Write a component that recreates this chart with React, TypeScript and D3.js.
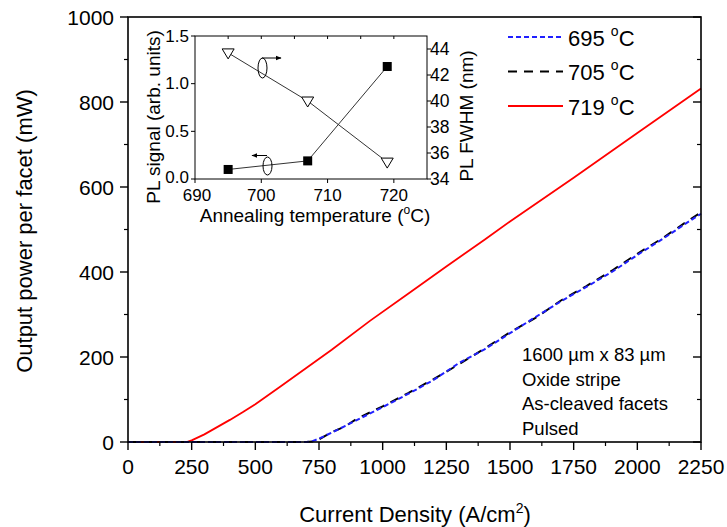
import React from "react";
import * as d3 from "d3";

// main plot: output power vs current density
const jRed = [0, 230, 250, 300, 350, 400, 450, 500, 600, 700, 800, 950, 1100, 1250, 1400, 1500, 1750, 2000, 2250];
const pRed = [0, 0, 4, 18, 35, 52, 70, 89, 131, 174, 217, 285, 349, 413, 476, 519, 622, 727, 832];

const jCool = [0, 700, 725, 750, 800, 850, 900, 1000, 1100, 1200, 1300, 1400, 1500, 1600, 1700, 1800, 1900, 2000, 2100, 2200, 2250];
const pBlue = [0, 0, 2, 8, 22, 37, 52, 82, 113, 146, 186, 218, 256, 294, 331, 365, 400, 440, 478, 518, 537];
const pBlack = [0, 0, 1, 6, 23, 36, 55, 84, 115, 148, 183, 220, 258, 292, 333, 367, 403, 443, 480, 521, 540];

const xTicks = [0, 250, 500, 750, 1000, 1250, 1500, 1750, 2000, 2250];
const yTicks = [0, 200, 400, 600, 800, 1000];

// inset: PL vs annealing temperature
const annealT = [695, 707, 719];
const plSignal = [0.1, 0.19, 1.18];
const plFwhm = [43.7, 40.0, 35.3];
const insetXTicks = [690, 700, 710, 720];
const insetYLTicks = [0.0, 0.5, 1.0, 1.5];
const insetYRTicks = [34, 36, 38, 40, 42, 44];

const legendItems = [
  { label: "695", color: "#2020ff", dash: "5,3" },
  { label: "705", color: "#000", dash: "9,7" },
  { label: "719", color: "#ff0000", dash: "" },
];
const noteLines = ["1600 \u00b5m x 83 \u00b5m", "Oxide stripe", "As-cleaved facets", "Pulsed"];

const font = "'Liberation Sans', Arial, sans-serif";

export default function App() {
  const x = d3.scaleLinear().domain([0, 2250]).range([128, 701]);
  const y = d3.scaleLinear().domain([0, 1000]).range([442, 17]);

  const ix = d3.scaleLinear().domain([690, 725]).range([195, 427]);
  const iyL = d3.scaleLinear().domain([0, 1.5]).range([179, 36]);
  const iyR = d3.scaleLinear().domain([34, 45]).range([179, 36]);

  const line = (xs: number[], ys: number[]) =>
    d3.line<number>().x((_, i) => x(xs[i])).y((d) => y(d))(ys) || "";

  const minorX = d3.range(125, 2250, 250);
  const minorY = d3.range(100, 1000, 200);

  const sqLine = d3.line<number>().x((_, i) => ix(annealT[i])).y((d) => iyL(d))(plSignal) || "";
  const triLine = d3.line<number>().x((_, i) => ix(annealT[i])).y((d) => iyR(d))(plFwhm) || "";

  return (
    <svg width={727} height={527} style={{ position: "absolute", left: 0, top: 0, background: "#fff" }} fontFamily={font}>
      <defs>
        <marker id="arr" viewBox="0 0 10 10" refX="9" refY="5" markerWidth="6" markerHeight="6" orient="auto">
          <path d="M0,1 L10,5 L0,9 Z" fill="#000" />
        </marker>
      </defs>

      {/* curves */}
      <path d={line(jRed, pRed)} fill="none" stroke="#ff0000" strokeWidth={1.8} />
      <path d={line(jCool, pBlack)} fill="none" stroke="#000" strokeWidth={2} strokeDasharray="9,7" />
      <path d={line(jCool, pBlue)} fill="none" stroke="#2020ff" strokeWidth={2} strokeDasharray="5,3" />

      {/* frame */}
      <rect x={x(0)} y={y(1000)} width={x(2250) - x(0)} height={y(0) - y(1000)} fill="none" stroke="#000" strokeWidth={1.6} />

      {/* bottom axis */}
      {xTicks.map((t) => (
        <g key={"xt" + t}>
          <line x1={x(t)} x2={x(t)} y1={y(0)} y2={y(0) + 8} stroke="#000" strokeWidth={1.4} />
          <text x={x(t)} y={474} fontSize={21} textAnchor="middle">{t}</text>
        </g>
      ))}
      {minorX.map((t) => (
        <line key={"xm" + t} x1={x(t)} x2={x(t)} y1={y(0)} y2={y(0) + 4} stroke="#000" strokeWidth={1.2} />
      ))}
      <text x={415} y={522} fontSize={22} textAnchor="middle">
        Current Density (A/cm<tspan fontSize={14} dy={-9}>2</tspan><tspan dy={9}>)</tspan>
      </text>

      {/* left + right axis */}
      {yTicks.map((t) => (
        <g key={"yt" + t}>
          <line x1={x(0) - 8} x2={x(0)} y1={y(t)} y2={y(t)} stroke="#000" strokeWidth={1.4} />
          <line x1={x(2250) - 8} x2={x(2250)} y1={y(t)} y2={y(t)} stroke="#000" strokeWidth={1.4} />
          <text x={114} y={y(t)} fontSize={21} textAnchor="end" dominantBaseline="central">{t}</text>
        </g>
      ))}
      {minorY.map((t) => (
        <g key={"ym" + t}>
          <line x1={x(0) - 4} x2={x(0)} y1={y(t)} y2={y(t)} stroke="#000" strokeWidth={1.2} />
          <line x1={x(2250) - 4} x2={x(2250)} y1={y(t)} y2={y(t)} stroke="#000" strokeWidth={1.2} />
        </g>
      ))}
      <text transform="translate(32,231) rotate(-90)" fontSize={22} textAnchor="middle">
        Output power per facet (mW)
      </text>

      {/* legend */}
      {legendItems.map((d, i) => {
        const ly = 37 + i * 34.5;
        return (
          <g key={d.label}>
            <line x1={508} x2={563} y1={ly} y2={ly} stroke={d.color} strokeWidth={2} strokeDasharray={d.dash} />
            <text x={568} y={ly + 8.5} fontSize={22}>
              {d.label + " "}<tspan fontSize={14} dy={-10}>o</tspan><tspan dy={10}>C</tspan>
            </text>
          </g>
        );
      })}

      {/* note */}
      {noteLines.map((s, i) => (
        <text key={s} x={522} y={361 + i * 24.7} fontSize={18.5}>{s}</text>
      ))}

      {/* inset */}
      <rect x={ix(690)} y={iyL(1.5)} width={ix(725) - ix(690)} height={iyL(0) - iyL(1.5)} fill="#fff" stroke="#000" strokeWidth={1} />
      {d3.range(695, 725, 5).map((t) => (
        <line key={"itm" + t} x1={ix(t)} x2={ix(t)} y1={iyL(1.5)} y2={iyL(1.5) + 3} stroke="#000" />
      ))}
      {insetXTicks.map((t) => (
        <g key={"ixt" + t}>
          <line x1={ix(t)} x2={ix(t)} y1={iyL(0)} y2={iyL(0) + 4} stroke="#000" />
          <text x={ix(t) + (t === 690 ? 2 : 0)} y={201} fontSize={17} textAnchor="middle">{t}</text>
        </g>
      ))}
      {insetYLTicks.map((t) => (
        <g key={"iyl" + t}>
          <line x1={ix(690) - 4} x2={ix(690)} y1={iyL(t)} y2={iyL(t)} stroke="#000" />
          <text x={189} y={iyL(t) - (t === 0 ? 2 : 0)} fontSize={17} textAnchor="end" dominantBaseline="central">{t.toFixed(1)}</text>
        </g>
      ))}
      {insetYRTicks.map((t) => (
        <g key={"iyr" + t}>
          <line x1={ix(725)} x2={ix(725) + 4} y1={iyR(t)} y2={iyR(t)} stroke="#000" />
          <text x={430} y={iyR(t)} fontSize={17.5} dominantBaseline="central">{t}</text>
        </g>
      ))}
      <text transform="translate(160,117) rotate(-90)" fontSize={19} textAnchor="middle">PL signal (arb. units)</text>
      <text transform="translate(473,116) rotate(-90)" fontSize={19} textAnchor="middle">PL FWHM (nm)</text>
      <text x={315} y={222} fontSize={19} textAnchor="middle">
        Annealing temperature (<tspan fontSize={12} dy={-8}>o</tspan><tspan dy={8}>C)</tspan>
      </text>

      <path d={sqLine} fill="none" stroke="#333" strokeWidth={1} />
      <path d={triLine} fill="none" stroke="#333" strokeWidth={1} />
      {annealT.map((t, i) => (
        <rect key={"sq" + t} x={ix(t) - 4.5} y={iyL(plSignal[i]) - 4.5} width={9} height={9} fill="#000" />
      ))}
      {annealT.map((t, i) => {
        const cx = ix(t);
        const cy = iyR(plFwhm[i]);
        return (
          <path key={"tri" + t} d={`M${cx - 6},${cy - 4} L${cx + 6},${cy - 4} L${cx},${cy + 6} Z`} fill="#fff" stroke="#000" strokeWidth={1} />
        );
      })}

      {/* axis hint ellipses with arrows */}
      <ellipse cx={262.5} cy={68} rx={4.5} ry={10} fill="none" stroke="#000" strokeWidth={1} />
      <line x1={262} y1={58} x2={281} y2={58} stroke="#000" strokeWidth={1} markerEnd="url(#arr)" />
      <ellipse cx={267.5} cy={166} rx={4.5} ry={9} fill="none" stroke="#000" strokeWidth={1} />
      <line x1={267} y1={155.5} x2={252} y2={155.5} stroke="#000" strokeWidth={1} markerEnd="url(#arr)" />
    </svg>
  );
}
